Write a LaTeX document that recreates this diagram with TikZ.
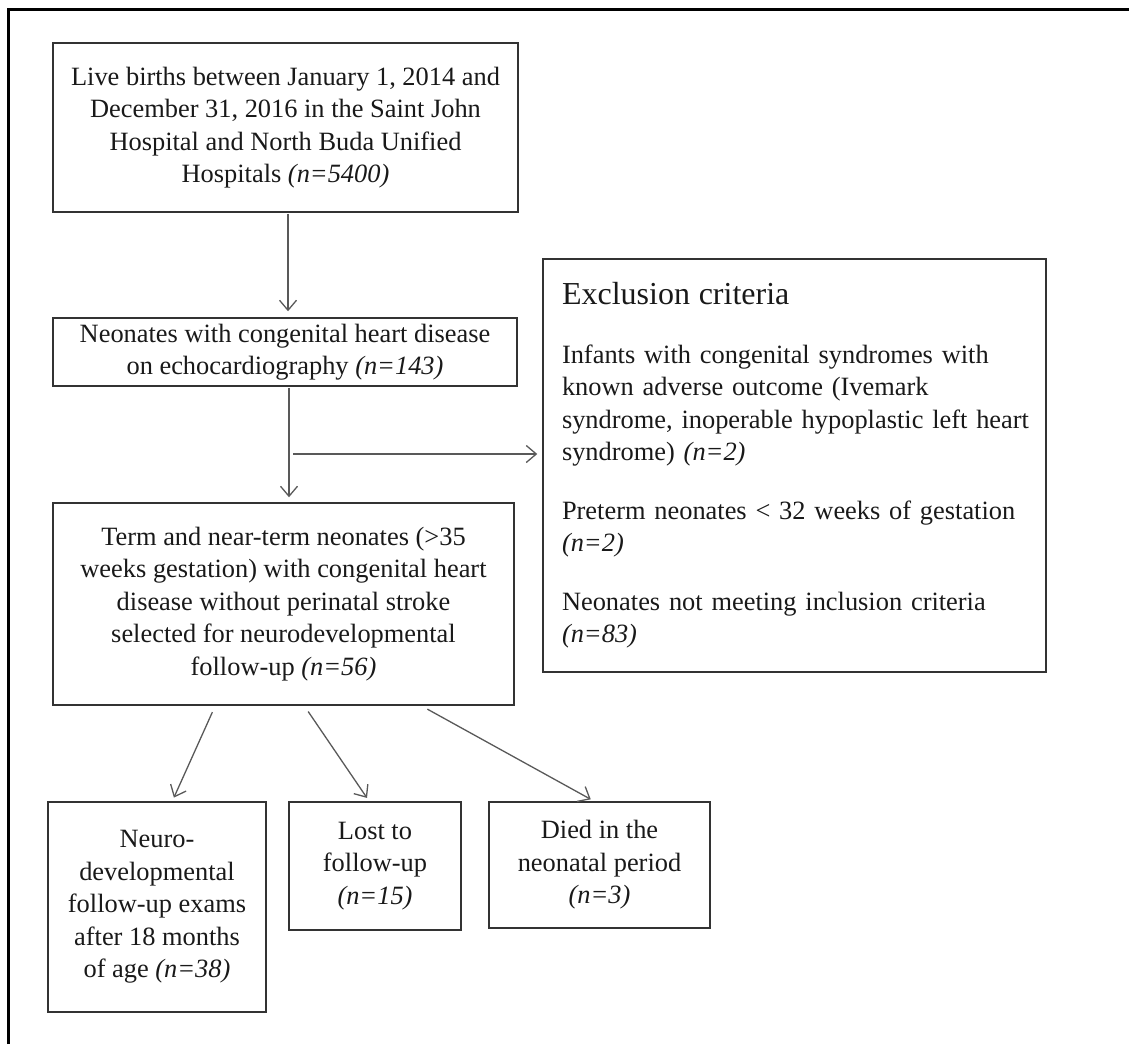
\documentclass[tikz,border=0pt]{standalone}
\usepackage{fontspec}
\setmainfont{Liberation Serif}
\usepackage{tikz}
\usetikzlibrary{arrows.meta,positioning}

\tikzset{
  box/.style={draw=black!80, line width=1.5pt, align=center, inner sep=0pt,
    text=black!90, font=\fontsize{26.4}{32.5}\selectfont},
  arr/.style={draw=black!65, line width=1.3pt,
    -{Straight Barb[length=10pt,width=17pt]}}
}

\begin{document}
\begin{tikzpicture}[x=1pt,y=-1pt]
    \useasboundingbox (0,0) rectangle (1129,1044);
    \draw[line width=3pt] (8,1044) -- (8,9) -- (1129,9);

    \node[box, minimum width=465pt, minimum height=169pt] (live) at (285.5,127.5)
      {Live births between January 1, 2014 and\\ December 31, 2016 in the Saint John\\
       Hospital and North Buda Unified\\ Hospitals \textit{(n=5400)}};
    \node[box, minimum width=464pt, minimum height=68pt] (chd) at (285,352)
      {Neonates with congenital heart disease\\ on echocardiography \textit{(n=143)}};
    \node[box, minimum width=461pt, minimum height=202pt] (term) at (283.5,604)
      {Term and near-term neonates (>35\\ weeks gestation) with congenital heart\\
       disease without perinatal stroke\\ selected for neurodevelopmental\\
       follow-up \textit{(n=56)}};
    \node[box, align=left, text width=465pt, inner xsep=19pt, minimum height=413pt]
      (excl) at (794.5,465.5)
      {{\fontsize{32}{38}\selectfont Exclusion criteria}\\[26pt]
       Infants with congenital syndromes with\\ known adverse outcome (Ivemark\\
       \mbox{syndrome, inoperable hypoplastic left heart}\\ syndrome) \textit{(n=2)}\\[26pt]
       \mbox{Preterm neonates < 32 weeks of gestation}\\ \textit{(n=2)}\\[26pt]
       \mbox{Neonates not meeting inclusion criteria}\\ \textit{(n=83)}};

    \node[box, minimum width=218pt, minimum height=210pt] (followed) at (157,907)
      {Neuro-\\ developmental\\ follow-up exams\\ after 18 months\\ of age \textit{(n=38)}};
    \node[box, minimum width=172pt, minimum height=128pt] (lost) at (375,866)
      {Lost to\\ follow-up\\ \textit{(n=15)}};
    \node[box, minimum width=221pt, minimum height=126pt] (died) at (599.5,865)
      {Died in the\\ neonatal period\\ \textit{(n=3)}};

    \coordinate (branch) at (293,454);

    \draw[arr, shorten <=1pt, shorten >=6pt] ([xshift=2.5pt]live.south) -- ([xshift=3pt]chd.north);
    \draw[arr, shorten <=1pt, shorten >=5pt] ([xshift=4pt]chd.south) -- ([xshift=4pt]chd.south |- term.north);
    \draw[arr, shorten >=5pt] (branch) -- (branch -| excl.west);

    \draw[arr, shorten <=7pt, shorten >=4pt] ([xshift=163pt]term.south west) -- ([xshift=125pt]followed.north west);
    \draw[arr, shorten <=7pt, shorten >=4pt] ([xshift=252pt]term.south west) -- ([xshift=81pt]lost.north west);
    \draw[arr, shorten <=7pt, shorten >=4pt] ([xshift=369pt]term.south west) -- ([xshift=106pt]died.north west);
\end{tikzpicture}
\end{document}
